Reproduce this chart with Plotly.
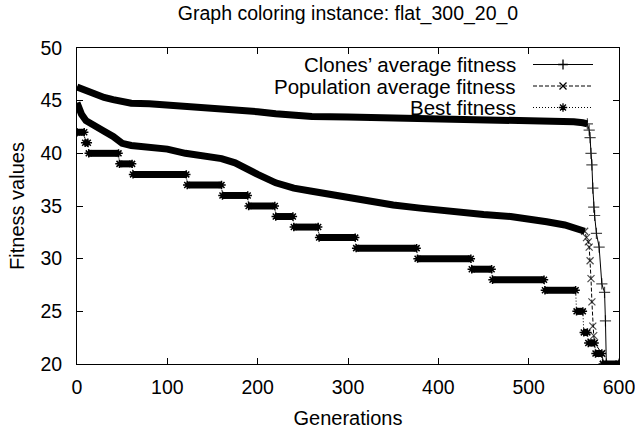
import plotly.graph_objects as go

# ---------------- data ----------------
clone_gen = [0, 10, 20, 30, 40, 50, 60, 80, 100, 120, 150, 180, 200, 220, 240, 260, 300, 350,
             400, 450, 500, 530, 550, 560, 565,
             567, 568, 569, 570, 571, 572, 573, 575, 578, 581, 584, 585, 586, 600]
clone_fit = [46.3, 45.95, 45.55, 45.3, 45.1, 44.9, 44.75, 44.7, 44.6, 44.45, 44.3, 44.15, 43.95,
             43.75, 43.55, 43.5, 43.45, 43.35, 43.3, 43.25, 43.2, 43.1, 43.0, 42.9, 42.8,
             42.2, 41.5, 40.0, 38.9, 36.7, 34.9, 34.1, 32.4, 31.1, 27.6, 26.8, 24.1, 20.0, 20.0]

pop_gen = [0, 2, 5, 10, 20, 30, 40, 50, 60, 80, 100, 120, 140, 160, 175, 185, 200, 220, 240, 260,
           280, 300, 320, 350, 380, 400, 420, 450, 480, 500, 520, 540, 555, 562,
           564, 566, 567, 568, 569, 570, 571, 572, 573, 581, 583, 600]
pop_fit = [44.8, 44.1, 43.7, 43.1, 42.5, 42.1, 41.6, 40.95, 40.75, 40.6, 40.4, 40.0, 39.8, 39.5,
           39.1, 38.6, 38.0, 37.2, 36.7, 36.4, 36.1, 35.7, 35.4, 35.1, 34.8, 34.6, 34.4, 34.2,
           34.0, 33.8, 33.5, 33.2, 32.9, 32.6,
           32.0, 31.6, 31.1, 29.8, 28.1, 25.9, 23.6, 22.7, 22.0, 21.0, 20.0, 20.0]

best_start = [0, 9, 13, 47, 62, 122, 161, 190, 220, 240, 268, 309, 377, 437, 460, 518, 553, 561, 566, 574, 582]
best_end = [8, 12, 46, 61, 121, 160, 189, 219, 239, 267, 308, 376, 436, 459, 517, 552, 560, 565, 573, 581, 600]
best_fit = [42, 41, 40, 39, 38, 37, 36, 35, 34, 33, 32, 31, 30, 29, 28, 27, 25, 23, 22, 21, 20]

series_names = ["Clones\u2019 average fitness", "Population average fitness", "Best fitness"]
x_ticks = [0, 100, 200, 300, 400, 500, 600]
y_ticks = [20, 25, 30, 35, 40, 45, 50]

# ---------------- styling ----------------
FONT = "Liberation Sans, Arial, Helvetica, sans-serif"
BAND_W = 7
CLONE_BAND_END = 565
POP_BAND_END = 562

fig = go.Figure()

# thick bands (overlapping markers in the original)
cb = [i for i, g in enumerate(clone_gen) if g <= CLONE_BAND_END]
fig.add_trace(go.Scatter(x=[clone_gen[i] for i in cb], y=[clone_fit[i] for i in cb], mode="lines",
                         line=dict(color="black", width=BAND_W), showlegend=False, hoverinfo="skip"))
pb = [i for i, g in enumerate(pop_gen) if g <= POP_BAND_END]
fig.add_trace(go.Scatter(x=[pop_gen[i] for i in pb], y=[pop_fit[i] for i in pb], mode="lines",
                         line=dict(color="black", width=BAND_W), showlegend=False, hoverinfo="skip"))
bx, by = [], []
for s, e, v in zip(best_start, best_end, best_fit):
    bx += [s, e, None]
    by += [v, v, None]
fig.add_trace(go.Scatter(x=bx, y=by, mode="lines", line=dict(color="black", width=BAND_W),
                         showlegend=False, hoverinfo="skip"))

# thin lines with point markers (markers hidden inside the bands)
clone_sizes = [0 if g < CLONE_BAND_END else 8 for g in clone_gen]
pop_sizes = [0 if g < POP_BAND_END else 7 for g in pop_gen]
fig.add_trace(go.Scatter(x=clone_gen, y=clone_fit, mode="lines+markers", name=series_names[0],
                         line=dict(color="black", width=1),
                         marker=dict(symbol="cross-thin-open", size=clone_sizes, color="black",
                                     line=dict(color="black", width=1.2)),
                         showlegend=False))
fig.add_trace(go.Scatter(x=pop_gen, y=pop_fit, mode="lines+markers", name=series_names[1],
                         line=dict(color="black", width=1, dash="4px,2px"),
                         marker=dict(symbol="x-thin-open", size=pop_sizes, color="black",
                                     line=dict(color="black", width=1.2)),
                         showlegend=False))
sx, sy = [], []
for s, e, v in zip(best_start, best_end, best_fit):
    sx += [s, e]
    sy += [v, v]
fig.add_trace(go.Scatter(x=sx, y=sy, mode="lines+markers", name=series_names[2],
                         line=dict(color="black", width=1, dash="1px,2px"),
                         marker=dict(symbol="asterisk-open", size=7, color="black",
                                     line=dict(color="black", width=1.5)),
                         showlegend=False))

# ---------------- custom gnuplot-style legend (pixel overlay axes) ----------------
leg_rows = [64, 85.5, 107]
leg_syms = ["cross-thin-open", "x-thin-open", "asterisk-open"]
leg_dash = ["solid", "4px,2px", "1px,2px"]
for name, yy, sym, dsh in zip(series_names, leg_rows, leg_syms, leg_dash):
    fig.add_trace(go.Scatter(x=[533, 593], y=[yy, yy], mode="lines", xaxis="x2", yaxis="y2",
                             line=dict(color="black", width=1, dash=dsh),
                             showlegend=False, hoverinfo="skip"))
    fig.add_trace(go.Scatter(x=[563], y=[yy], mode="markers", xaxis="x2", yaxis="y2",
                             marker=dict(symbol=sym, size=7, color="black",
                                         line=dict(color="black", width=1.3)),
                             showlegend=False, hoverinfo="skip"))
    fig.add_annotation(x=518, y=yy, xref="x2", yref="y2", text=name, showarrow=False,
                       xanchor="right", yanchor="middle",
                       font=dict(family=FONT, size=20.5, color="black"))

axis_common = dict(showline=True, linecolor="black", linewidth=1, mirror="allticks",
                   ticks="inside", ticklen=6, tickwidth=1, tickcolor="black",
                   showgrid=False, zeroline=False, automargin=False,
                   ticklabeloverflow="allow",
                   tickfont=dict(family=FONT, size=19.5, color="black"))

fig.update_layout(
    width=635, height=432, autosize=False,
    margin=dict(l=77, r=16, t=48, b=68),
    paper_bgcolor="white", plot_bgcolor="white",
    title=dict(text="Graph coloring instance: flat_300_20_0", x=0.5, xref="paper",
               y=1 - 13 / 432, yref="container", yanchor="middle", xanchor="center",
               font=dict(family=FONT, size=19.5, color="black")),
    xaxis=dict(range=[0, 600], tickvals=x_ticks, ticklabelstandoff=6,
               title=dict(text="Generations", font=dict(family=FONT, size=20, color="black"),
                          standoff=13),
               **axis_common),
    yaxis=dict(range=[20, 50], tickvals=y_ticks, ticklabelstandoff=10,
               title=dict(text="Fitness values", font=dict(family=FONT, size=20, color="black"),
                          standoff=10),
               **axis_common),
    xaxis2=dict(overlaying="x", range=[77, 619], visible=False, anchor="y2"),
    yaxis2=dict(overlaying="y", range=[363.5, 47.5], visible=False, anchor="x2"),
    showlegend=False,
)

fig.write_html("out.html")
